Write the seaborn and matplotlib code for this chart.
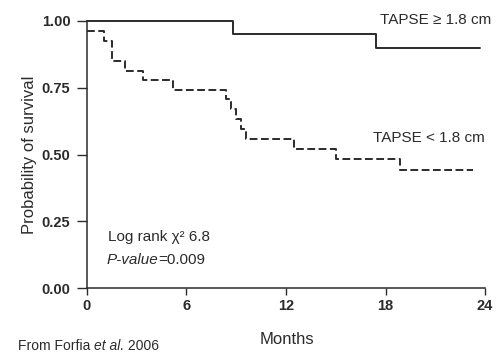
import numpy as np
import pandas as pd
import matplotlib
matplotlib.use("Agg")
import matplotlib.pyplot as plt
import seaborn as sns

# Kaplan-Meier steps
high_months = [0, 8.8, 17.4, 23.7]
high_surv = [1.00, 0.95, 0.90, 0.90]

low_months = [0, 1.0, 1.5, 2.3, 3.4, 5.2, 8.4, 8.7, 9.0, 9.3, 9.6, 12.5, 15.0, 18.9, 23.3]
low_surv = [0.964, 0.923, 0.85, 0.814, 0.778, 0.743, 0.706, 0.669, 0.632, 0.595, 0.558,
            0.521, 0.483, 0.442, 0.442]

x_ticks = [0, 6, 12, 18, 24]
y_ticks = [0.00, 0.25, 0.50, 0.75, 1.00]

sns.set_style("ticks")
plt.rcParams["font.family"] = ["Liberation Sans", "DejaVu Sans"]

ink = "#2b2b2b"

df_high = pd.DataFrame({"Months": high_months, "Survival": high_surv})
df_low = pd.DataFrame({"Months": low_months, "Survival": low_surv})

fig = plt.figure(figsize=(4.97, 3.54), dpi=100)
ax = fig.add_axes([0.175, 0.186, 0.801, 0.755])

sns.lineplot(data=df_high, x="Months", y="Survival", ax=ax, estimator=None,
             drawstyle="steps-post", color=ink, linewidth=1.4)
sns.lineplot(data=df_low, x="Months", y="Survival", ax=ax, estimator=None,
             drawstyle="steps-post", color=ink, linewidth=1.4, dashes=False)
ax.lines[-1].set_dashes((4, 1.8))
for ln in ax.lines:
    ln.set_clip_on(False)

ax.set_xlim(0, 24)
ax.set_ylim(0, 1)
ax.set_xticks(x_ticks)
ax.set_yticks(y_ticks)
ax.set_xticklabels([str(t) for t in x_ticks], fontweight="bold", fontsize=10.5, color=ink)
ax.set_yticklabels([f"{t:.2f}" for t in y_ticks], fontweight="bold", fontsize=10.5, color=ink)
ax.tick_params(axis="y", length=7, width=1, color=ink, pad=5)
ax.tick_params(axis="x", length=5, width=1, color=ink, pad=3)
for s in ["left", "bottom"]:
    ax.spines[s].set_color(ink)
    ax.spines[s].set_linewidth(1.1)
sns.despine(ax=ax)

ax.set_xlabel("Months", fontsize=12, color=ink)
ax.set_ylabel("Probability of survival", fontsize=12, color=ink)
ax.xaxis.set_label_coords(0.5025, -0.165)
ax.yaxis.set_label_coords(-0.126, 0.5)

ax.text(17.67, 1.004, "TAPSE \u2265 1.8 cm", fontsize=11, color=ink, va="center")
ax.text(17.25, 0.562, "TAPSE < 1.8 cm", fontsize=11, color=ink, va="center")

ax.text(1.27, 0.191, "Log rank \u03c7\u00b2 6.8", fontsize=11, color=ink, va="center")
p1 = ax.text(1.2, 0.105, "P-value", fontsize=11, style="italic", color=ink, va="center")
ax.annotate("=0.009", xy=(1, 0), xycoords=p1, fontsize=11, color=ink, va="bottom")

# source note, partly italic
f1 = fig.text(0.036, 0.012, "From Forfia ", fontsize=10, color=ink, va="baseline")
a2 = ax.annotate("et al.", xy=(1, 0), xycoords=f1, fontsize=10, style="italic",
                 color=ink, va="bottom", annotation_clip=False)
ax.annotate(" 2006", xy=(1, 0), xycoords=a2, fontsize=10, color=ink,
            va="bottom", annotation_clip=False)

fig.savefig("out.png", dpi=100)
